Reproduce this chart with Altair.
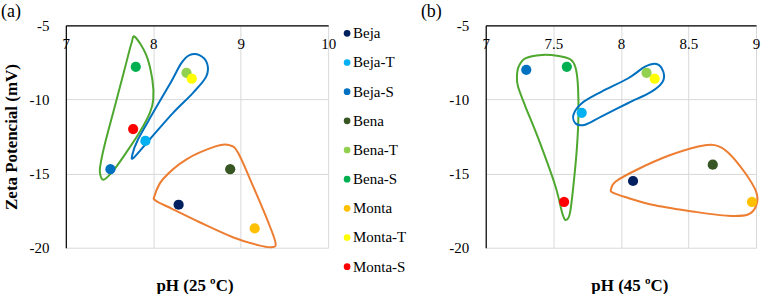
import altair as alt
import pandas as pd

FONT = "Liberation Serif, Times New Roman, serif"

# Samples and their marker colours
names = ["Beja", "Beja-T", "Beja-S", "Bena", "Bena-T", "Bena-S", "Monta", "Monta-T", "Monta-S"]
colors = ["#002060", "#00B0F0", "#0070C0", "#375623", "#92D050", "#00B050", "#FFC000", "#FFFF00", "#FF0000"]

# pH and zeta potential at 25 ºC
ph25 = [8.29, 7.91, 7.51, 8.88, 8.38, 7.80, 9.16, 8.44, 7.77]
zeta25 = [-17.1, -12.8, -14.7, -14.7, -8.2, -7.8, -18.7, -8.6, -12.0]

# pH and zeta potential at 45 ºC
ph45 = [8.09, 7.71, 7.30, 8.68, 8.19, 7.60, 8.97, 8.25, 7.58]
zeta45 = [-15.5, -10.9, -8.0, -14.4, -8.2, -7.8, -16.9, -8.6, -16.9]

# Group outlines (closed curves through these vertices), 25 ºC
green25_x = [7.79, 7.92, 7.99, 8.00, 7.96, 7.84, 7.69, 7.54, 7.43, 7.39, 7.40, 7.45, 7.56, 7.67, 7.75]
green25_y = [-5.78, -7.01, -8.68, -10.02, -10.92, -12.25, -13.59, -14.82, -15.42, -14.93, -14.26, -12.92, -10.47, -8.01, -6.23]
blue25_x = [7.776, 7.958, 8.224, 8.452, 8.605, 8.616, 8.528, 8.414, 8.319, 8.205, 7.996, 7.825, 7.761]
blue25_y = [-13.93, -12.70, -10.92, -9.57, -8.46, -7.57, -7.01, -7.01, -7.57, -8.80, -10.92, -12.70, -13.71]
orange25_x = [8.015, 8.11, 8.38, 8.72, 8.87, 8.97, 9.14, 9.33, 9.40, 9.35, 9.21, 8.91, 8.53, 8.22, 8.03]
orange25_y = [-16.5, -15.38, -14.04, -13.15, -13.08, -13.59, -15.83, -18.5, -19.73, -19.96, -19.84, -19.29, -18.28, -17.39, -16.83]

# Group outlines, 45 ºC
green45_x = [7.231, 7.244, 7.293, 7.416, 7.539, 7.625, 7.662, 7.681, 7.686, 7.674, 7.649, 7.625, 7.600, 7.571, 7.514, 7.391, 7.293, 7.239]
green45_y = [-8.45, -7.78, -7.23, -7.0, -7.07, -7.29, -7.78, -8.90, -11.12, -13.35, -15.80, -17.58, -18.10, -17.81, -15.80, -12.68, -10.46, -9.12]
blue45_x = [7.711, 7.858, 8.055, 8.179, 8.264, 8.314, 8.309, 8.227, 8.055, 7.858, 7.736, 7.666, 7.649]
blue45_y = [-10.25, -9.47, -8.57, -7.79, -7.61, -8.13, -8.80, -9.47, -10.24, -11.14, -11.70, -11.63, -11.03]
orange45_x = [7.927, 7.962, 8.129, 8.351, 8.572, 8.695, 8.793, 8.916, 9.002, 9.002, 8.941, 8.793, 8.547, 8.252, 8.031, 7.940]
orange45_y = [-16.07, -15.53, -14.69, -13.80, -13.17, -13.08, -13.57, -14.91, -16.25, -17.14, -17.76, -17.85, -17.58, -17.14, -16.58, -16.29]

groups = ["green", "blue", "orange"]
group_colors = ["#4EA72E", "#0070C0", "#ED7D31"]

y_ticks = [-5, -10, -15, -20]

# plain hyphen for negative tick labels
HYPHEN = "replace(format(datum.value, '~g'), '\u2212', '-')"


def outline_frame(shapes):
    rows = []
    for g, (xs, ys) in zip(groups, shapes):
        for i, (x, y) in enumerate(zip(xs, ys)):
            rows.append({"ph": x, "zeta": y, "group": g, "k": i})
    return pd.DataFrame(rows)


def panel(ph, zeta, shapes, xmax, xticks, xtitle, tag, width, ytitle, title_dx):
    pts = pd.DataFrame({"name": names, "ph": ph, "zeta": zeta})
    hull = outline_frame(shapes)

    x_enc = alt.X(
        "ph:Q",
        scale=alt.Scale(domain=[7, xmax], nice=False, zero=False),
        axis=alt.Axis(
            orient="top", values=xticks, title=None, grid=True, gridColor="#D9D9D9",
            gridWidth=1, domainColor="black", domainWidth=1.2, ticks=False, tickSize=0,
            labelBaseline="top", labelPadding=-11, labelFlush=False, labelOverlap=False,
            labelExpr=HYPHEN,
            labelFont=FONT, labelFontSize=15, labelColor="black",
        ),
    )
    y_enc = alt.Y(
        "zeta:Q",
        scale=alt.Scale(domain=[-20, -5], nice=False, zero=False),
        axis=alt.Axis(
            values=y_ticks, title=ytitle, grid=True, gridColor="#D9D9D9", gridWidth=1,
            domainColor="black", domainWidth=1.2, ticks=False, tickSize=0,
            labelPadding=17, labelFlush=False, labelOverlap=False,
            labelExpr=HYPHEN,
            labelFont=FONT, labelFontSize=15, labelColor="black",
            titleFont=FONT, titleFontSize=17, titleFontWeight="bold", titleColor="black",
            titlePadding=8,
        ),
    )

    lines = alt.Chart(hull).mark_line(
        interpolate="cardinal-closed", strokeWidth=2, clip=False
    ).encode(
        x=x_enc, y=y_enc, order="k:Q",
        detail="group:N",
        stroke=alt.Stroke("group:N", scale=alt.Scale(domain=groups, range=group_colors), legend=None),
    )
    dots = alt.Chart(pts).mark_circle(size=105, opacity=1).encode(
        x=x_enc, y=y_enc,
        color=alt.Color("name:N", scale=alt.Scale(domain=names, range=colors), legend=None),
    )
    label = alt.Chart(pd.DataFrame({"tag": [tag]})).mark_text(
        align="left", baseline="top", font=FONT, fontSize=18, color="black"
    ).encode(x=alt.value(-65), y=alt.value(-22), text="tag:N")

    return alt.layer(lines, dots, label).properties(
        width=width, height=223,
        title=alt.TitleParams(
            xtitle, orient="bottom", offset=22, font=FONT, fontSize=17,
            fontWeight="bold", color="black", dx=title_dx,
        ),
    )


left = panel(ph25, zeta25, [(green25_x, green25_y), (blue25_x, blue25_y), (orange25_x, orange25_y)],
             10, [7, 8, 9, 10], "pH (25 ºC)", "(a)", 263, "Zeta Potencial (mV)", -2)
right = panel(ph45, zeta45, [(green45_x, green45_y), (blue45_x, blue45_y), (orange45_x, orange45_y)],
              9, [7, 7.5, 8, 8.5, 9], "pH (45 ºC)", "(b)", 271, None, 9)

# Legend column between the two panels
leg_df = pd.DataFrame({"name": names})
leg_y = alt.Y("name:N", sort=names, scale=alt.Scale(range=[8, 242], padding=0), axis=None)
leg_dots = alt.Chart(leg_df).mark_circle(size=45, opacity=1).encode(
    x=alt.value(19), y=leg_y,
    color=alt.Color("name:N", scale=alt.Scale(domain=names, range=colors), legend=None),
)
leg_text = alt.Chart(leg_df).mark_text(
    align="left", baseline="middle", font=FONT, fontSize=15, color="black"
).encode(x=alt.value(25), y=leg_y, text="name:N")
legend = alt.layer(leg_dots, leg_text).properties(width=158, height=223)

chart = alt.hconcat(left, legend, right, spacing=0, bounds="flush").resolve_scale(
    x="independent", y="independent", color="independent", stroke="independent"
).properties(
    padding={"left": 1, "top": 3, "right": 0, "bottom": 0}, background="white"
).configure_view(stroke=None)

chart.save("out.html", embed_options={"renderer": "svg", "actions": False})
